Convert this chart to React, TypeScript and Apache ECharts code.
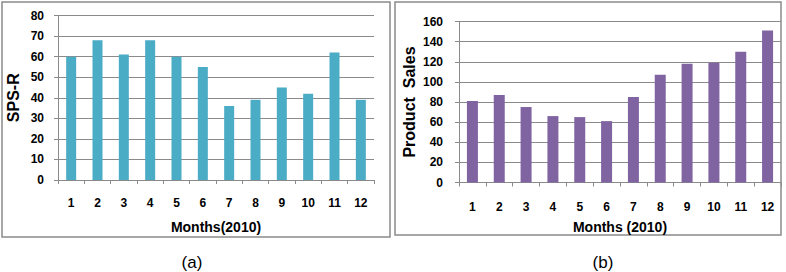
import React, { useEffect, useRef } from "react";
import * as echarts from "echarts";

const months = ["1", "2", "3", "4", "5", "6", "7", "8", "9", "10", "11", "12"];
const spsR = [60, 68, 61, 68, 60, 55, 36, 39, 45, 42, 62, 39];
const productSales = [81, 87, 75, 66, 65, 61, 85, 107, 118, 119, 130, 151];
const spsTicks = { min: 0, max: 80, interval: 10 };
const salesTicks = { min: 0, max: 160, interval: 20 };

const FONT = "Liberation Sans";
const GRAY = "#8a8a8a";

export default function App() {
  const ref = useRef<HTMLDivElement>(null);
  useEffect(() => {
    if (!ref.current) return;
    const chart = echarts.init(ref.current, null, { renderer: "svg" });
    const tickLabel = { color: "#000", fontFamily: FONT, fontWeight: "bold" as const, fontSize: 12 };
    const nameStyle = { color: "#000", fontFamily: FONT, fontWeight: "bold" as const, fontSize: 14 };
    chart.setOption({
      animation: false,
      backgroundColor: "#fff",
      graphic: [
        { type: "rect", shape: { x: 2, y: 2, width: 388, height: 235 }, style: { fill: "none", stroke: GRAY, lineWidth: 1.5 }, silent: true },
        { type: "rect", shape: { x: 395, y: 2, width: 386, height: 233 }, style: { fill: "none", stroke: GRAY, lineWidth: 1.5 }, silent: true },
        { type: "text", x: 192, y: 262, style: { text: "(a)", fontFamily: FONT, fontSize: 17, fill: "#000", align: "center", verticalAlign: "middle" } },
        { type: "text", x: 603, y: 262, style: { text: "(b)", fontFamily: FONT, fontSize: 17, fill: "#000", align: "center", verticalAlign: "middle" } },
      ],
      grid: [
        { left: 58, top: 15.5, width: 316, height: 164.5 },
        { left: 459, top: 21.5, width: 322, height: 161 },
      ],
      xAxis: [
        {
          type: "category", gridIndex: 0, data: months,
          axisLine: { lineStyle: { color: GRAY } },
          axisTick: { show: true, length: 4, lineStyle: { color: GRAY } },
          axisLabel: { ...tickLabel, margin: 17 },
          name: "Months(2010)", nameLocation: "middle", nameGap: 40, nameTextStyle: nameStyle,
        },
        {
          type: "category", gridIndex: 1, data: months,
          axisLine: { lineStyle: { color: GRAY } },
          axisTick: { show: true, length: 4, lineStyle: { color: GRAY } },
          axisLabel: { ...tickLabel, margin: 18 },
          name: "Months (2010)", nameLocation: "middle", nameGap: 37, nameTextStyle: nameStyle,
        },
      ],
      yAxis: [
        {
          type: "value", gridIndex: 0, ...spsTicks,
          axisLine: { show: true, lineStyle: { color: GRAY } },
          axisTick: { show: true, length: 4, lineStyle: { color: GRAY } },
          splitLine: { lineStyle: { color: GRAY } },
          axisLabel: { ...tickLabel, margin: 14 },
          name: "SPS-R", nameLocation: "middle", nameGap: 37, nameRotate: 90,
          nameTextStyle: { ...nameStyle, fontSize: 16 },
        },
        {
          type: "value", gridIndex: 1, ...salesTicks,
          axisLine: { show: true, lineStyle: { color: GRAY } },
          axisTick: { show: true, length: 4, lineStyle: { color: GRAY } },
          splitLine: { lineStyle: { color: GRAY } },
          axisLabel: { ...tickLabel, margin: 16 },
          name: "Product  Sales", nameLocation: "middle", nameGap: 42, nameRotate: 90,
          nameTextStyle: { ...nameStyle, fontSize: 16 },
        },
      ],
      series: [
        { type: "bar", xAxisIndex: 0, yAxisIndex: 0, data: spsR, barWidth: 10, itemStyle: { color: "#4BACC6" } },
        { type: "bar", xAxisIndex: 1, yAxisIndex: 1, data: productSales, barWidth: 11, itemStyle: { color: "#8064A2" } },
      ],
    });
    return () => chart.dispose();
  }, []);
  return <div ref={ref} style={{ position: "fixed", left: 0, top: 0, width: 786, height: 272 }} />;
}
